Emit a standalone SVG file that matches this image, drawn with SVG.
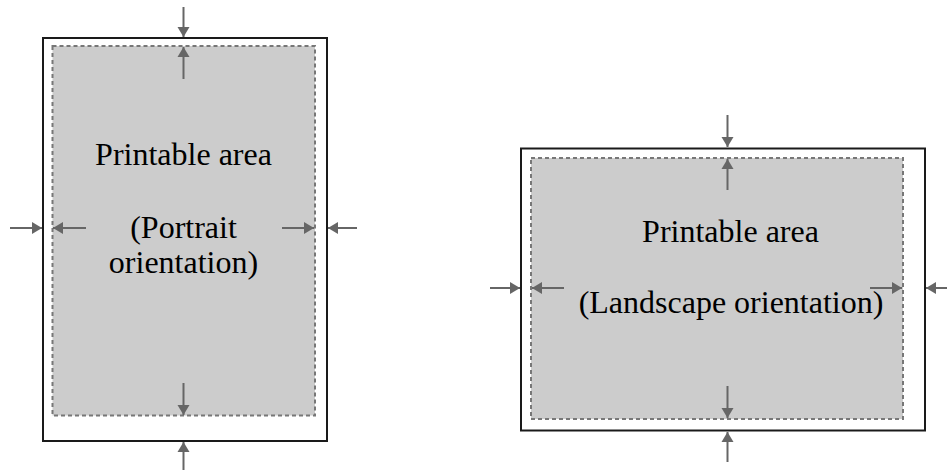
<svg xmlns="http://www.w3.org/2000/svg" width="947" height="470" viewBox="0 0 947 470">
<style>
.page{fill:#ffffff;stroke:#1a1a1a;stroke-width:2}
.area{fill:#cccccc;stroke:#777777;stroke-width:2;stroke-dasharray:4 3}
.lbl{font-family:"Liberation Serif","Times New Roman",serif;font-size:32px;fill:#000;text-anchor:middle}
.arr{stroke:#666666;stroke-width:2;fill:none;marker-end:url(#ah)}
</style>
<defs>
<marker id="ah" viewBox="0 0 10 12" refX="10" refY="6" markerWidth="10" markerHeight="13" markerUnits="userSpaceOnUse" orient="auto">
<path d="M0,0 L10,6 L0,12 Z" fill="#666666"/>
</marker>
</defs>
<g id="portrait">
<rect class="page" x="43" y="38" width="284" height="403"/>
<rect class="area" x="52.5" y="46" width="262.5" height="369.5"/>
<text class="lbl" x="183.5" y="165">Printable area</text>
<text class="lbl" x="183.5" y="238">(Portrait</text>
<text class="lbl" x="183.5" y="273">orientation)</text>
</g>
<g id="landscape">
<rect class="page" x="521" y="148.5" width="404" height="282"/>
<rect class="area" x="531" y="158" width="372" height="261"/>
<text class="lbl" x="730.5" y="242">Printable area</text>
<text class="lbl" x="731" y="313">(Landscape orientation)</text>
</g>
<g id="connectors">
<line class="arr" x1="183.5" y1="7" x2="183.5" y2="37"/>
<line class="arr" x1="183.5" y1="79" x2="183.5" y2="47"/>
<line class="arr" x1="183.5" y1="383" x2="183.5" y2="415"/>
<line class="arr" x1="183.5" y1="470" x2="183.5" y2="442"/>
<line class="arr" x1="10" y1="228" x2="42" y2="228"/>
<line class="arr" x1="86" y1="228" x2="53" y2="228"/>
<line class="arr" x1="282" y1="228" x2="314" y2="228"/>
<line class="arr" x1="357" y1="228" x2="328" y2="228"/>
<line class="arr" x1="727.5" y1="115" x2="727.5" y2="147"/>
<line class="arr" x1="727.5" y1="190" x2="727.5" y2="159"/>
<line class="arr" x1="727.5" y1="386" x2="727.5" y2="418"/>
<line class="arr" x1="727.5" y1="462" x2="727.5" y2="432"/>
<line class="arr" x1="490" y1="288" x2="520" y2="288"/>
<line class="arr" x1="564" y1="288" x2="532" y2="288"/>
<line class="arr" x1="870" y1="288" x2="902" y2="288"/>
<line class="arr" x1="947" y1="288" x2="926" y2="288"/>
</g>
</svg>
